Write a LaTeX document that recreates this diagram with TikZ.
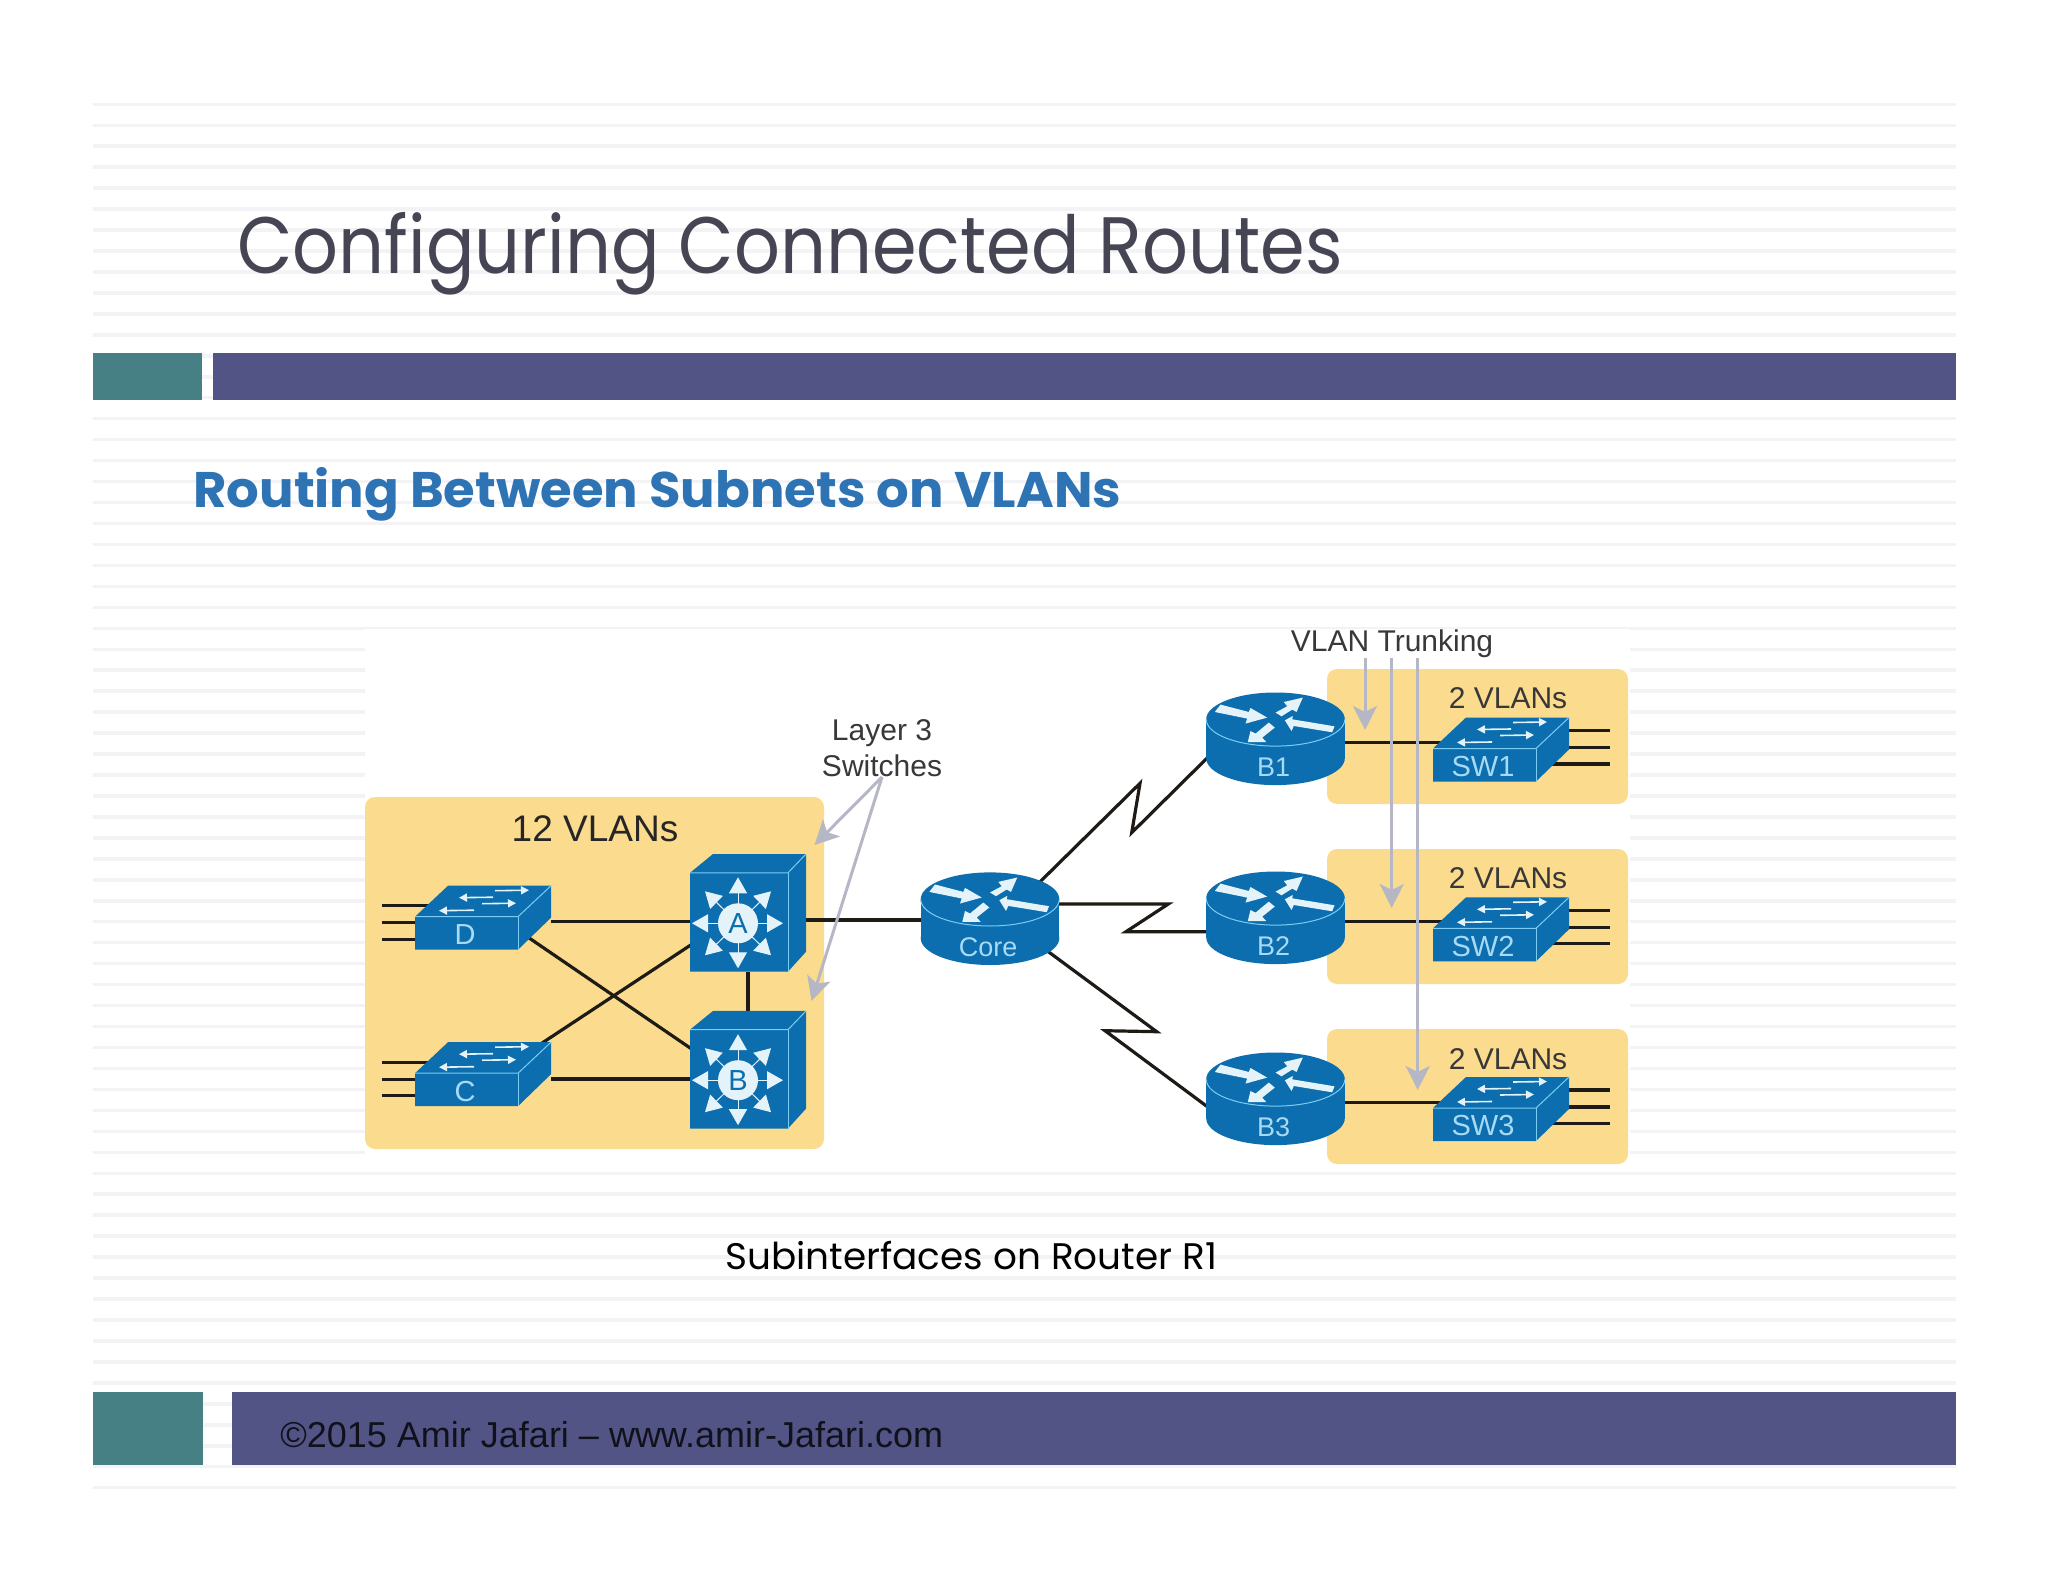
\documentclass[tikz,border=0pt]{standalone}
\usepackage{fontspec}
\setmainfont{Liberation Sans}
\newfontfamily\headfont{Poppins}
\usetikzlibrary{arrows.meta,calc}
\definecolor{stripecol}{HTML}{F3F3F5}
\definecolor{tealcol}{HTML}{468085}
\definecolor{barcol}{HTML}{535486}
\definecolor{titlecol}{HTML}{454554}
\definecolor{subcol}{HTML}{2E74B5}
\definecolor{yellowcol}{HTML}{FBDC8E}
\definecolor{devcol}{HTML}{0C6EAE}
\definecolor{rimcol}{HTML}{7CCDF3}
\definecolor{devtext}{HTML}{A8DAF4}
\definecolor{arrowcol}{HTML}{E4F2FA}
\definecolor{greycol}{HTML}{B6B7C5}
\definecolor{linkcol}{HTML}{1E1A16}
\tikzset{
  stripe/.style={draw=stripecol,line width=1.75pt},
  vlanbox/.style={fill=yellowcol,rounded corners=5pt},
  link/.style={draw=linkcol,line width=1.6pt},
  grayarrow/.style={draw=greycol,line width=1.5pt,-{Stealth[length=12pt,width=12pt,inset=3pt]}},
  graytext/.style={text=black!78,font=\fontsize{15}{18}\selectfont,inner sep=0pt},
  swbox/.style={minimum width=68pt,minimum height=32pt,inner sep=0pt},
  mlsbox/.style={minimum width=58pt,minimum height=58.8pt,inner sep=0pt},
  rtbox/.style={minimum width=69.3pt,minimum height=46.3pt,inner sep=0pt},
  devlabel/.style={text=devtext,font=\fontsize{14.5}{14.5}\selectfont,inner sep=0pt},
  mlsarrow/.style={draw=arrowcol,line width=.5pt,-{Triangle[length=8pt,width=9pt]}},
  swarrow/.style={draw=arrowcol,line width=.8pt,-{Triangle[length=4pt,width=4pt]}},
  pics/swicon/.style={code={
    \fill[devcol] (-68,-1) -- (-35,-32) -- (68,-32) -- (68,0) -- (35,32) -- (-68,32) -- cycle;
    \draw[rimcol,line width=.5pt] (-68,-1) -- (35,-1) -- (68,-32);
    \draw[rimcol,line width=.5pt] (35,-1) -- (35,32);
    \draw[swarrow] (12,-27) -- (46,-27.5);
    \draw[swarrow] (10,-20.5) -- (-24,-20);
    \draw[swarrow] (-1,-14) -- (33,-14.5);
    \draw[swarrow] (-9,-7.5) -- (-44,-7);
    \node[devlabel] (-t) at (-18,17) {#1};
  }},
  pics/mlsicon/.style={code={
    \fill[devcol] (-58,-40) -- (-35,-58.8) -- (58,-58.8) -- (58,39) -- (40,58.8) -- (-58,58.8) -- cycle;
    \draw[rimcol,line width=.5pt] (-58,-40) -- (40,-40) -- (58,-58.8);
    \draw[rimcol,line width=.5pt] (40,-40) -- (40,58.8);
    \draw[mlsarrow] (-10,10.5) -- ++(0,-46);
    \draw[mlsarrow] (-10,10.5) -- ++(0,45);
    \draw[mlsarrow] (-10,10.5) -- ++(45,0);
    \draw[mlsarrow] (-10,10.5) -- ++(-46,0);
    \draw[mlsarrow] (-10,10.5) -- ++(33,-32);
    \draw[mlsarrow] (-10,10.5) -- ++(-33,-32);
    \draw[mlsarrow] (-10,10.5) -- ++(33,32);
    \draw[mlsarrow] (-10,10.5) -- ++(-33,32);
    \fill[arrowcol] (-10,10.5) circle (20);
    \node[text=devcol,font=\fontsize{14.5}{14.5}\selectfont,inner sep=0pt] (-t) at (-10,10.5) {#1};
  }},
  pics/rticon/.style={code={
    \fill[devcol] (0,19.5) ellipse (69.3 and 26.8);
    \fill[devcol] (-69.3,-19.5) rectangle (69.3,19.5);
    \fill[devcol] (0,-19.5) ellipse (69.3 and 26.8);
    \draw[rimcol,line width=.5pt] (-69.3,-19.5) arc (180:0:69.3 and 26.8);
    \begin{scope}[shift={(0,-19.5)}]
    \fill[arrowcol] (-60.7,-7.3) -- (-55,-14.7) -- (-26.7,-7.3) -- (-25,-11.3) -- (-8.3,-1.7) -- (-30,4.3) -- (-28.3,-.7) -- cycle;
    \fill[arrowcol] (0,-6.7) -- (6,-3) -- (16.7,-9.7) -- (21,-7.3) -- (27.3,-21.7) -- (8.3,-17.3) -- (11.7,-13) -- cycle;
    \fill[arrowcol] (9.3,1) -- (17.3,-3.3) -- (16.7,0) -- (59,7) -- (56.7,13) -- (18.3,6.7) -- (16,11.7) -- cycle;
    \fill[arrowcol] (-27.7,22.7) -- (-25,11.7) -- (-20,14.3) -- (-6.7,3.3) -- (-.7,8.3) -- (-13.3,18.3) -- (-9.3,22.7) -- cycle;
    \end{scope}
    \node[devlabel,font=\fontsize{13.5}{13.5}\selectfont] (-t) at (-2,28) {#1};
  }},
  pics/stubsleft/.style={code={
    \draw[link] (-101,-12) -- (-40,-12);
    \draw[link] (-101,5) -- (-40,5);
    \draw[link] (-101,21.5) -- (-40,21.5);
  }},
  pics/stubsright/.style={code={
    \draw[link] (30,-19) -- (109,-19);
    \draw[link] (30,-2) -- (109,-2);
    \draw[link] (30,14.5) -- (109,14.5);
  }},
}
\begin{document}
\begin{tikzpicture}[x=0.5pt,y=-0.5pt]
\useasboundingbox (0,0) rectangle (2048,1582);
% stripes of the slide
\foreach \k in {0,...,66}
  \draw[stripe] (93,{104.3+\k*20.96}) -- (1956,{104.3+\k*20.96});
% bars
\fill[tealcol] (93,353) rectangle (202,400);
\fill[barcol] (213,353) rectangle (1956,400);
\fill[tealcol] (93,1392) rectangle (203,1465);
\fill[barcol] (232,1392) rectangle (1956,1465);
% texts of the slide
\node[anchor=base west,inner sep=0pt,text=titlecol,font=\headfont\fontsize{40}{40}\selectfont,xscale=.898,transform shape] (title) at (237,274) {Configuring Connected Routes};
\node[anchor=base west,inner sep=0pt,text=subcol,font=\headfont\bfseries\fontsize{25}{25}\selectfont,xscale=1.025,transform shape] (subtitle) at (193,508) {Routing Between Subnets on VLANs};
\node[anchor=base west,inner sep=0pt,text=black,font=\headfont\fontsize{18.5}{18.5}\selectfont,xscale=1.01,transform shape] (caption) at (725,1269) {Subinterfaces on Router R1};
\node[anchor=base west,inner sep=0pt,text=black!80!barcol,font=\fontsize{18}{18}\selectfont] (footer) at (280,1447) {©2015 Amir Jafari – www.amir-Jafari.com};
% figure
\fill[white] (365,629) rectangle (1630,1172);
\fill[vlanbox] (365,797) rectangle (824,1149);
\fill[vlanbox] (1327,669) rectangle (1628,804);
\fill[vlanbox] (1327,849) rectangle (1628,984);
\fill[vlanbox] (1327,1029) rectangle (1628,1164);
% devices
\node[swbox] (D) at (483,917.7) {};
\node[swbox] (C) at (483,1074.2) {};
\node[mlsbox] (A) at (748,912.8) {};
\node[mlsbox] (B) at (748,1069.7) {};
\node[rtbox] (Core) at (990,918.7) {};
\node[rtbox] (B1) at (1275.5,738.8) {};
\node[rtbox] (B2) at (1275.5,917.8) {};
\node[rtbox] (B3) at (1275.5,1098.8) {};
\node[swbox] (SW1) at (1501,749.5) {};
\node[swbox] (SW2) at (1501,929.3) {};
\node[swbox] (SW3) at (1501,1109) {};
% links
\draw[link] (D.-3) -- (D.-3 -| A);
\draw[link] ($(D)+(40,16.1)$) -- ($(B)+(-48,-15)$);
\draw[link] ($(C)+(47,-23.2)$) -- ($(A)+(-48,26.1)$);
\draw[link] (C.-4) -- (C.-4 -| B);
\draw[link] (A) -- (B);
\draw[link] (A.-7) -- (A.-7 -| Core);
\draw[link] (B1.-3) -- (B1.-3 -| SW1);
\draw[link] (B2.-3) -- (B2.-3 -| SW2);
\draw[link] (B3.-3) -- (B3.-3 -| SW3);
% serial links
\coordinate (z1a) at (1140,783.3);
\coordinate (z1b) at (1131.7,832.7);
\coordinate (z2a) at (1168.3,904);
\coordinate (z2b) at (1126,931.7);
\coordinate (z3a) at (1156.7,1031.7);
\coordinate (z3b) at (1105,1030.7);
\draw[link] ($(Core)+(40,-27)$) -- (z1a) -- (z1b) -- ($(B1)+(-50,1)$);
\draw[link] ($(Core)+(30,-14.7)$) -- (z2a) -- (z2b) -- ($(B2)+(-30,13.9)$);
\draw[link] ($(Core)+(40,19.5)$) -- (z3a) -- (z3b) -- ($(B3)+(-50.5,21)$);
% icons
\pic at (D) {stubsleft};
\pic at (C) {stubsleft};
\pic at (SW1) {stubsright};
\pic at (SW2) {stubsright};
\pic at (SW3) {stubsright};
\pic (Dicon) at (D) {swicon=D};
\pic (Cicon) at (C) {swicon=C};
\pic (SW1icon) at (SW1) {swicon=SW1};
\pic (SW2icon) at (SW2) {swicon=SW2};
\pic (SW3icon) at (SW3) {swicon=SW3};
\pic (Aicon) at (A) {mlsicon=A};
\pic (Bicon) at (B) {mlsicon=B};
\pic (Coreicon) at (Core) {rticon=Core};
\pic (B1icon) at (B1) {rticon=B1};
\pic (B2icon) at (B2) {rticon=B2};
\pic (B3icon) at (B3) {rticon=B3};
% labels
\node[anchor=base,inner sep=0pt,text=black!85,font=\fontsize{18.5}{18.5}\selectfont] (twelve) at (595,841.7) {12 VLANs};
\node[graytext,anchor=base] (vlan1) at ($(SW1)+(7,-41)$) {2 VLANs};
\node[graytext,anchor=base] (vlan2) at ($(SW2)+(7,-41)$) {2 VLANs};
\node[graytext,anchor=base] (vlan3) at ($(SW3)+(7,-40)$) {2 VLANs};
\node[graytext,align=center] (layer) at (882,748) {Layer 3\\Switches};
\node[graytext,anchor=base] (trunk) at (1392,651) {VLAN Trunking};
% arrows of the callouts
\coordinate (atip) at (814.5,845);
\coordinate (btip) at (811.5,1001);
\coordinate (t1) at (1365,730);
\coordinate (t2) at (1391.7,908);
\coordinate (t3) at (1417.7,1090);
\draw[grayarrow] (layer.south) -- (atip);
\draw[grayarrow] (layer.south) -- (btip);
\draw[grayarrow] (trunk.south -| t1) -- (t1);
\draw[grayarrow] (trunk.south -| t2) -- (t2);
\draw[grayarrow] (trunk.south -| t3) -- (t3);
\end{tikzpicture}
\end{document}
